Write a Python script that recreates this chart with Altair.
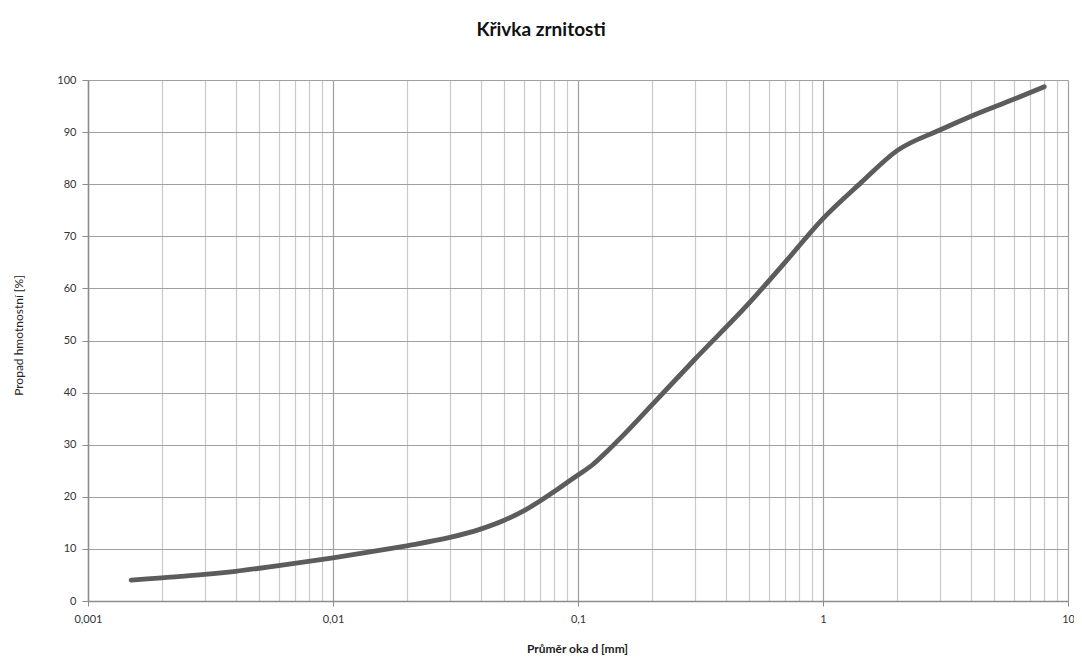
import altair as alt
import pandas as pd

diameter_mm = [0.0015, 0.002, 0.003, 0.004, 0.006, 0.01, 0.015, 0.02, 0.03, 0.04, 0.05, 0.06,
               0.07, 0.08, 0.09, 0.1, 0.115, 0.13, 0.15, 0.2, 0.3, 0.5, 0.7, 1.0, 1.43,
               2.0, 3.0, 4.0, 6.0, 8.0]
passing_pct = [4.0, 4.45, 5.1, 5.7, 6.8, 8.3, 9.6, 10.6, 12.2, 13.8, 15.5, 17.3,
               19.2, 21.0, 22.7, 24.2, 26.2, 28.5, 31.4, 37.6, 46.4, 57.2, 65.0, 73.4, 80.3,
               86.4, 90.4, 93.0, 96.3, 98.7]

x_grid_values = [m * 10 ** e for e in (-3, -2, -1, 0) for m in range(1, 10)] + [10]
x_grid_values = [float(f"{v:.4g}") for v in x_grid_values]
y_ticks = list(range(0, 101, 10))

df = pd.DataFrame({"d": diameter_mm, "p": passing_pct})

major_test = "abs(log(datum.value)/LN10 - round(log(datum.value)/LN10)) < 0.000001"
label_expr = ("datum.value == 0.001 ? '0,001' : datum.value == 0.01 ? '0,01' : "
              "datum.value == 0.1 ? '0,1' : datum.value == 1 ? '1' : datum.value == 10 ? '10' : ''")

FONT = "Lato"

chart = alt.Chart(df).mark_line(
    color="#5c5c5c", strokeWidth=4.8, interpolate="monotone", strokeCap="round"
).encode(
    x=alt.X("d:Q",
            scale=alt.Scale(type="log", domain=[0.001, 10], nice=False),
            axis=alt.Axis(
                values=x_grid_values,
                labelExpr=label_expr,
                title="Průměr oka d [mm]",
                titleFont=FONT, titleFontSize=12, titleFontWeight="bold", titleColor="#222",
                titleX=489, titleY=47, titleBaseline="middle", titleAnchor="middle",
                labelFont=FONT, labelFontSize=11, labelColor="#333", labelPadding=7,
                labelOverlap=False, labelFlush=False,
                domainColor="#8c8c8c", domainWidth=1.5,
                tickSize=5,
                tickColor={"condition": {"test": major_test, "value": "#8c8c8c"}, "value": "transparent"},
                gridColor={"condition": {"test": major_test, "value": "#a0a0a0"}, "value": "#c9c9c9"},
                gridWidth=1.2,
            )),
    y=alt.Y("p:Q",
            scale=alt.Scale(domain=[0, 100], nice=False),
            axis=alt.Axis(
                values=y_ticks,
                title="Propad hmotnostní  [%]",
                titleFont=FONT, titleFontSize=12, titleFontWeight="normal", titleColor="#222",
                titleX=-70, titleY=255, titleAngle=-90, titleBaseline="middle", titleAnchor="middle",
                labelFont=FONT, labelFontSize=11, labelColor="#333", labelPadding=6,
                domainColor="#8c8c8c", domainWidth=1.5,
                tickColor="#8c8c8c", tickSize=6,
                gridColor="#a0a0a0", gridWidth=1.2,
            )),
).properties(
    width=980,
    height=521,
    padding={"left": 80, "top": 72, "right": 6, "bottom": 56},
    autosize=alt.AutoSizeParams(type="none"),
    title=alt.TitleParams("Křivka zrnitosti", font=FONT, fontSize=19, fontWeight="bold",
                          color="#111", anchor="middle", dx=-37, offset=34),
).configure_view(stroke=None).configure(background="white")

chart.save("out.html", embed_options={"renderer": "svg", "actions": False})
